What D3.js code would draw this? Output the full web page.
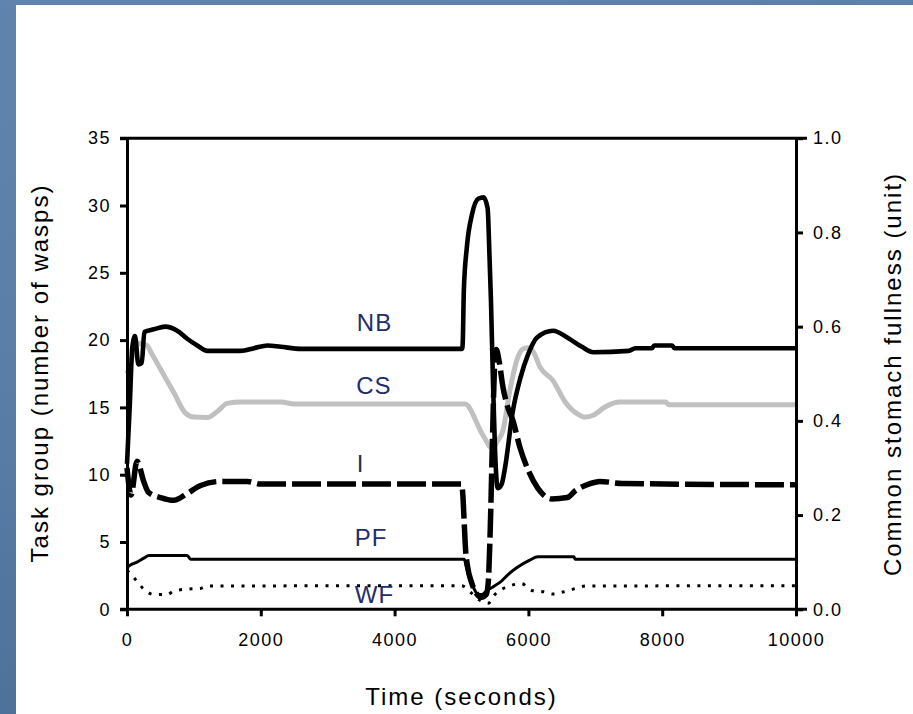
<!DOCTYPE html>
<html>
<head>
<meta charset="utf-8">
<script src="https://cdn.jsdelivr.net/npm/d3@7/dist/d3.min.js"></script>
<style>
	html, body { margin: 0; padding: 0; background: #5a7da6; }
	svg { display: block; font-family: 'Liberation Sans', Arial, sans-serif; }
</style>
</head>
<body>
<div id="chart"></div>
<script>
// time in seconds
const nbPoints = [[0,10.8],[40,15],[80,19.5],[120,20.3],[170,18.2],[220,18.3],[260,20.6],[400,20.8],[570,21.0],[750,20.7],[900,20.1],[1050,19.6],[1200,19.2],[1700,19.2],[1900,19.4],[2100,19.6],[2300,19.5],[2600,19.35],[5010,19.35],[5020,20],[5035,23.7],[5080,26.9],[5160,29.4],[5250,30.5],[5330,30.6],[5390,29.8],[5420,26],[5440,23],[5470,17],[5500,12],[5540,9],[5600,9.3],[5650,10.5],[5770,14.8],[5875,17.1],[6000,19],[6130,20.2],[6370,20.7],[6580,20.2],[6800,19.5],[6970,19.1],[7500,19.2],[7600,19.4],[7850,19.4],[7880,19.6],[8150,19.6],[8180,19.4],[10000,19.4]]
const csPoints = [[0,0.50],[50,0.52],[120,0.555],[200,0.565],[300,0.56],[360,0.545],[500,0.51],[700,0.46],[870,0.417],[1000,0.408],[1200,0.407],[1350,0.42],[1500,0.437],[1700,0.44],[2300,0.44],[2500,0.436],[5050,0.436],[5100,0.432],[5130,0.425],[5200,0.405],[5280,0.38],[5360,0.36],[5425,0.345],[5470,0.342],[5530,0.355],[5620,0.38],[5725,0.466],[5830,0.53],[5920,0.553],[6000,0.555],[6080,0.545],[6170,0.515],[6370,0.485],[6550,0.44],[6730,0.415],[6850,0.408],[6970,0.412],[7150,0.43],[7370,0.44],[8050,0.44],[8100,0.434],[10000,0.434]]
const iPoints = [[0,10.5],[60,8.5],[150,11.0],[250,9.5],[320,8.7],[500,8.3],[700,8.1],[900,8.6],[1100,9.2],[1400,9.5],[1800,9.5],[2000,9.3],[5000,9.3],[5020,8.5],[5040,6.5],[5060,4.5],[5090,3.2],[5150,2.0],[5220,1.2],[5300,0.9],[5370,1.1],[5400,2.0],[5430,6],[5460,12],[5490,17.5],[5520,19.3],[5560,18.5],[5620,16.5],[5680,15.2],[5770,14],[5875,12],[6000,10.3],[6140,9.0],[6350,8.2],[6580,8.3],[6700,8.8],[6900,9.3],[7070,9.5],[7400,9.35],[10000,9.25]]
const pfPoints = [[0,3.1],[50,3.3],[150,3.5],[250,3.8],[330,4.0],[900,4.0],[950,3.72],[5040,3.72],[5070,3.2],[5120,2.3],[5180,1.6],[5250,1.1],[5300,1.1],[5380,1.4],[5480,1.7],[5575,2.0],[5700,2.6],[5830,3.1],[6020,3.65],[6140,3.9],[6680,3.9],[6700,3.72],[10000,3.72]]
const wfPoints = [[0,2.9],[130,2.2],[250,1.5],[400,1.1],[600,1.1],[700,1.35],[900,1.5],[1100,1.55],[1200,1.73],[5000,1.75],[5150,1.2],[5300,0.6],[5400,0.45],[5500,1.1],[5700,1.7],[5900,1.9],[6050,1.4],[6230,1.3],[6370,1.13],[6530,1.3],[6670,1.5],[6860,1.73],[10000,1.75]]

const timeTicks = [0, 2000, 4000, 6000, 8000, 10000]
const leftTicks = [0, 5, 10, 15, 20, 25, 30, 35]
const rightTicks = [0, 0.2, 0.4, 0.6, 0.8, 1.0]

const seriesLabels = ['NB', 'CS', 'I', 'PF', 'WF']
const labelAt = [[3700, 20.7], [3690, 16.0], [3490, 10.2], [3650, 4.7], [3700, 0.45]]

const width = 913
const height = 714

const svg = d3.select('#chart')
	.append('svg')
	.attr('width', width)
	.attr('height', height)

// slide background + white panel
const grad = svg.append('defs').append('linearGradient')
	.attr('id', 'bg')
	.attr('x1', 0).attr('y1', 0).attr('x2', 0.3).attr('y2', 1)
grad.append('stop').attr('offset', '0%').attr('stop-color', '#6084ad')
grad.append('stop').attr('offset', '50%').attr('stop-color', '#5a7ea8')
grad.append('stop').attr('offset', '100%').attr('stop-color', '#4c6f98')

svg.append('rect')
	.attr('width', width)
	.attr('height', height)
	.attr('fill', 'url(#bg)')

svg.append('rect')
	.attr('x', 16)
	.attr('y', 5)
	.attr('width', width - 16)
	.attr('height', height - 5)
	.attr('fill', '#fff')

const x = d3.scaleLinear().domain([0, 10000]).range([127, 796])
const yLeft = d3.scaleLinear().domain([0, 35]).range([609.3, 138.2])
const yRight = d3.scaleLinear().domain([0, 1]).range([609.3, 138.2])

const lineLeft = d3.line()
	.x(d => x(d[0]))
	.y(d => yLeft(d[1]))
	.curve(d3.curveMonotoneX)

const lineRight = d3.line()
	.x(d => x(d[0]))
	.y(d => yRight(d[1]))
	.curve(d3.curveMonotoneX)

const plot = svg.append('g')

plot.append('path')
	.attr('d', lineLeft(wfPoints))
	.attr('fill', 'none')
	.attr('stroke', '#000')
	.attr('stroke-width', 3)
	.attr('stroke-dasharray', '3,7.5')

plot.append('path')
	.attr('d', lineLeft(pfPoints))
	.attr('fill', 'none')
	.attr('stroke', '#000')
	.attr('stroke-width', 3)

plot.append('path')
	.attr('d', lineRight(csPoints))
	.attr('fill', 'none')
	.attr('stroke', '#c0c0c0')
	.attr('stroke-width', 5)

plot.append('path')
	.attr('d', lineLeft(iPoints))
	.attr('fill', 'none')
	.attr('stroke', '#000')
	.attr('stroke-width', 5.5)
	.attr('stroke-dasharray', '29,6')

plot.append('path')
	.attr('d', lineLeft(nbPoints))
	.attr('fill', 'none')
	.attr('stroke', '#000')
	.attr('stroke-width', 4.6)

// series names
svg.selectAll('text.series')
	.data(seriesLabels)
	.enter()
		.append('text')
			.attr('class', 'series')
			.attr('x', (d, i) => x(labelAt[i][0]))
			.attr('y', (d, i) => yLeft(labelAt[i][1]))
			.attr('text-anchor', 'middle')
			.attr('fill', '#1f2d6b')
			.attr('font-size', 24)
			.attr('letter-spacing', 1)
			.text(d => d)

// frame: top and bottom rules run across the tick stubs
const xr = x.range()
svg.append('line')
	.attr('x1', xr[0] - 7).attr('x2', xr[1] + 11)
	.attr('y1', yLeft(35)).attr('y2', yLeft(35))
	.attr('stroke', '#000').attr('stroke-width', 3)
svg.append('line')
	.attr('x1', xr[0] - 7).attr('x2', xr[1] + 11)
	.attr('y1', yLeft(0)).attr('y2', yLeft(0))
	.attr('stroke', '#000').attr('stroke-width', 3)

function styleAxis(g) {
	g.selectAll('path.domain').attr('stroke-width', 3)
	g.selectAll('.tick line').attr('stroke-width', 3)
	g.selectAll('.tick text')
		.attr('font-size', 18)
		.attr('letter-spacing', 1.5)
		.attr('fill', '#000')
	g.attr('font-family', null)
}

svg.append('g')
	.attr('transform', `translate(${xr[0]},0)`)
	.call(d3.axisLeft(yLeft).tickValues(leftTicks).tickSize(7).tickSizeOuter(0).tickPadding(9))
	.call(styleAxis)

svg.append('g')
	.attr('transform', `translate(${xr[1]},0)`)
	.call(d3.axisRight(yRight).tickValues(rightTicks).tickSize(7).tickSizeOuter(0).tickPadding(10).tickFormat(d3.format('.1f')))
	.call(styleAxis)

svg.append('g')
	.attr('transform', `translate(0,${yLeft(0)})`)
	.call(d3.axisBottom(x).tickValues(timeTicks).tickSize(7).tickSizeOuter(0).tickPadding(17).tickFormat(d3.format('d')))
	.call(styleAxis)
	.call(g => g.select('path.domain').remove())

// axis titles
svg.append('text')
	.attr('x', (xr[0] + xr[1]) / 2)
	.attr('y', 705)
	.attr('text-anchor', 'middle')
	.attr('font-size', 24)
	.attr('letter-spacing', 2)
	.text('Time (seconds)')

svg.append('text')
	.attr('transform', 'translate(48,373) rotate(-90)')
	.attr('text-anchor', 'middle')
	.attr('font-size', 24)
	.attr('letter-spacing', 2)
	.text('Task group (number of wasps)')

svg.append('text')
	.attr('transform', 'translate(901,374) rotate(-90)')
	.attr('text-anchor', 'middle')
	.attr('font-size', 24)
	.attr('letter-spacing', 2)
	.text('Common stomach fullness (unit)')
</script>
</body>
</html>
